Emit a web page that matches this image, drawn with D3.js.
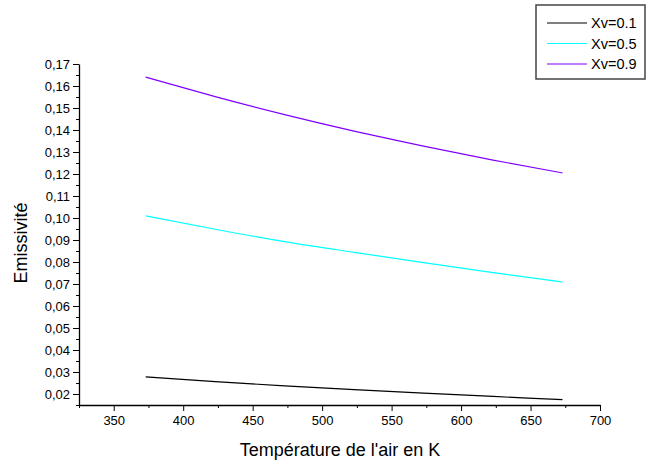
<!DOCTYPE html>
<html>
<head>
<meta charset="utf-8">
<script src="https://cdn.jsdelivr.net/npm/d3@7"></script>
<style>
  body { margin: 0; background: #fff; }
  text { font-family: "Liberation Sans", Arial, sans-serif; }
</style>
</head>
<body>
<div id="chart"></div>
<script>
// temperatures (K) and emissivity for each water fraction
var temperatures = [373, 423, 473, 523, 573, 623, 673];
var xv01 = [0.0278, 0.0256, 0.0237, 0.0220, 0.0204, 0.0189, 0.0174];
var xv05 = [0.1010, 0.0949, 0.0893, 0.0844, 0.0797, 0.0752, 0.0709];
var xv09 = [0.1640, 0.1552, 0.1470, 0.1395, 0.1327, 0.1263, 0.1205];
var seriesNames = ["Xv=0.1", "Xv=0.5", "Xv=0.9"];
var seriesColors = ["#000000", "#00ffff", "#8000ff"];
var xTicks = [350, 400, 450, 500, 550, 600, 650, 700];
var yTicks = [0.02, 0.03, 0.04, 0.05, 0.06, 0.07, 0.08, 0.09, 0.10, 0.11, 0.12, 0.13, 0.14, 0.15, 0.16, 0.17];

var width = 646,
    height = 463;

var svg = d3.select("#chart")
    .append("svg")
    .attr("width", width)
    .attr("height", height);

var x = d3.scaleLinear().domain([325, 700]).range([79, 600]);
var y = d3.scaleLinear().domain([0.015, 0.17]).range([405, 64]);

var fmt = function(d) { return d3.format(".2f")(d).replace(".", ","); };

// minor ticks first
var xMinor = d3.range(325, 701, 25).filter(function(v) { return v % 50 !== 0; });
var yMinor = d3.range(0.015, 0.1701, 0.005).filter(function(v) {
  return Math.abs(Math.round(v * 100) - v * 100) > 0.1;
});

svg.append("g")
    .attr("transform", "translate(0,405)")
    .call(d3.axisBottom(x).tickValues(xMinor).tickSize(3).tickFormat(""))
    .call(function(g) { g.select(".domain").remove(); });

svg.append("g")
    .attr("transform", "translate(79,0)")
    .call(d3.axisLeft(y).tickValues(yMinor).tickSize(3).tickFormat(""))
    .call(function(g) { g.select(".domain").remove(); });

var xAxis = svg.append("g")
    .attr("transform", "translate(0,405)")
    .call(d3.axisBottom(x).tickValues(xTicks).tickSize(6).tickSizeOuter(0).tickPadding(5));
xAxis.selectAll("text").attr("font-size", 13).attr("fill", "#000");
xAxis.select(".domain").attr("stroke-width", 1.3);

var yAxis = svg.append("g")
    .attr("transform", "translate(79,0)")
    .call(d3.axisLeft(y).tickValues(yTicks).tickSize(6).tickSizeOuter(0).tickPadding(3).tickFormat(fmt));
yAxis.selectAll("text").attr("font-size", 13).attr("fill", "#000");
yAxis.select(".domain").attr("stroke-width", 1.3);

svg.selectAll(".domain, .tick line").attr("stroke", "#000");

// axis titles
svg.append("text")
    .attr("x", 340)
    .attr("y", 456)
    .attr("text-anchor", "middle")
    .attr("font-size", 18)
    .text("Température de l'air en K");

svg.append("text")
    .attr("transform", "translate(27,243) rotate(-90)")
    .attr("text-anchor", "middle")
    .attr("font-size", 18)
    .text("Emissivité");

// lines
var allSeries = [xv01, xv05, xv09];
var line = d3.line()
    .x(function(d, i) { return x(temperatures[i]); })
    .y(function(d) { return y(d); })
    .curve(d3.curveMonotoneX);

svg.selectAll(".serie")
    .data(allSeries)
    .enter().append("path")
    .attr("class", "serie")
    .attr("fill", "none")
    .attr("stroke", function(d, i) { return seriesColors[i]; })
    .attr("stroke-width", 1.2)
    .attr("d", line);

// legend
var legend = svg.append("g");
legend.append("rect")
    .attr("x", 536)
    .attr("y", 5)
    .attr("width", 109)
    .attr("height", 74)
    .attr("fill", "#fff")
    .attr("stroke", "#444")
    .attr("stroke-width", 1.5);

var items = legend.selectAll(".item")
    .data(seriesNames)
    .enter().append("g")
    .attr("class", "item")
    .attr("transform", function(d, i) { return "translate(0," + (23 + i * 20.5) + ")"; });

items.append("line")
    .attr("x1", 547).attr("x2", 587)
    .attr("stroke", function(d, i) { return seriesColors[i]; })
    .attr("stroke-width", 1.2);

items.append("text")
    .attr("x", 591)
    .attr("y", 5)
    .attr("font-size", 14.5)
    .text(function(d) { return d; });
</script>
</body>
</html>
